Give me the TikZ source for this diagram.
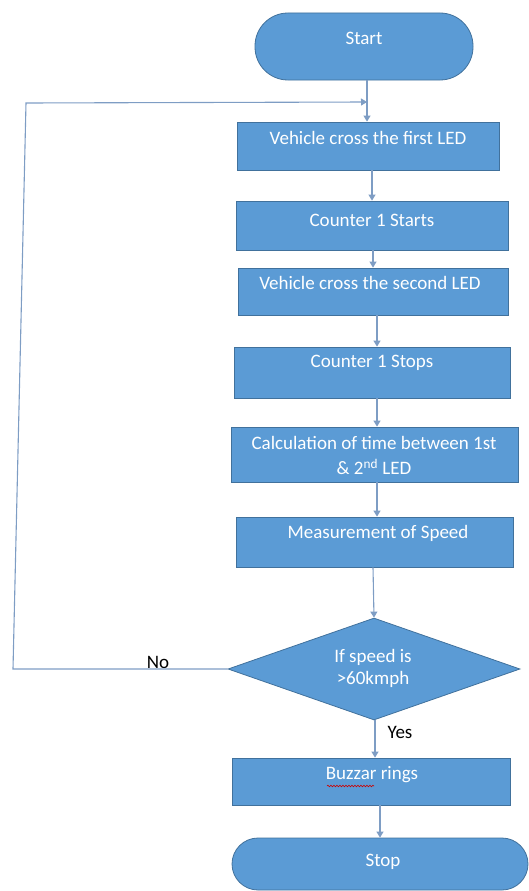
\documentclass[tikz,border=0pt]{standalone}
\usepackage{fontspec}
\setmainfont{Carlito}
\usetikzlibrary{shapes.geometric,arrows.meta,decorations.pathmorphing}
\definecolor{boxfill}{HTML}{5B9BD5}
\definecolor{boxedge}{HTML}{41719C}
\definecolor{lineclr}{HTML}{7E9DC4}
\tikzset{
  shp/.style={draw=boxedge, line width=0.8pt, fill=boxfill, inner sep=0pt},
  boxnode/.style={shp, rectangle},
  term/.style={shp, rectangle},
  txt/.style={text=white, font=\fontsize{19}{23}\selectfont, inner sep=0pt, anchor=center},
  lbl/.style={text=black, font=\fontsize{19}{23}\selectfont, inner sep=0pt, anchor=center},
  arr/.style={draw=lineclr, line width=1.1pt, -{Triangle[width=7pt,length=6pt]}},
  lin/.style={draw=lineclr, line width=1.1pt}
}
\begin{document}
\begin{tikzpicture}[x=1pt,y=-1pt]
\useasboundingbox (0,0) rectangle (528,891);
% shapes
\node[term, rounded corners=33pt, minimum width=218pt, minimum height=67pt] (start) at (364,46.5) {};
\node[boxnode, minimum width=262pt, minimum height=48pt] (b1) at (368,146) {};
\node[boxnode, minimum width=272pt, minimum height=49pt] (b2) at (372,225.5) {};
\node[boxnode, minimum width=270pt, minimum height=47pt] (b3) at (373,291.5) {};
\node[boxnode, minimum width=276pt, minimum height=51pt] (b4) at (372,372.5) {};
\node[boxnode, minimum width=287pt, minimum height=55pt] (b5) at (374.5,454.5) {};
\node[boxnode, minimum width=277pt, minimum height=50pt] (b6) at (374.5,542) {};
\node[shp, diamond, minimum width=292pt, minimum height=102pt] (dia) at (374,669) {};
\node[boxnode, minimum width=278pt, minimum height=47pt] (buz) at (371,781.5) {};
\node[term, rounded corners=26pt, minimum width=296pt, minimum height=52pt] (stop) at (380,864) {};
% texts
\node[txt] (tstart) at (364,38) {Start};
\node[txt] (t1) at (368,138) {Vehicle cross the first LED};
\node[txt] (t2) at (372,220) {Counter 1 Starts};
\node[txt] (t3) at (370,283) {Vehicle cross the second LED};
\node[txt] (t4) at (372,363) {Counter 1 Stops};
\node[txt] (t5a) at (374,443) {Calculation of time between 1st};
\node[txt] (t5b) at (374,467) {\& 2\textsuperscript{nd} LED};
\node[txt] (t6) at (378,533) {Measurement of Speed};
\node[txt] (tda) at (373,657) {If speed is};
\node[txt] (tdb) at (373,679) {>60kmph};
\node[txt] (tbuz) at (372,775) {Buzzar rings};
\node[txt] (tstop) at (383,862) {Stop};
\node[lbl] (no) at (158,662) {No};
\node[lbl] (yes) at (400,732) {Yes};
% red spell-check squiggle under "Buzzar"
\coordinate (sq1) at (327,786);
\coordinate (sq2) at (374,786);
\draw[red!80!black, line width=0.6pt, decorate, decoration={snake, amplitude=0.8pt, segment length=3pt}] (sq1) -- (sq2);
% connectors
\coordinate (m) at (367,102);
\coordinate (lb) at (13,669);
\coordinate (lt) at (26,103);
\draw[arr] (start.south -| m) -- (m |- b1.north);
\draw[arr] (dia.west) -- (lb) -- (lt) -- (m);
\coordinate (x1) at (372,0);
\coordinate (x2) at (373,0);
\coordinate (x3) at (377,0);
\coordinate (x4) at (373,0);
\coordinate (x5) at (375,0);
\coordinate (x6) at (380,0);
\draw[arr] (b1.south -| x1) -- (b2.north -| x1);
\draw[arr] (b2.south -| x2) -- (b3.north -| x2);
\draw[arr] (b3.south -| x3) -- (b4.north -| x3);
\draw[arr] (b4.south -| x3) -- (b5.north -| x3);
\draw[arr] (b5.south -| x3) -- (b6.north -| x3);
\draw[arr] (b6.south -| x4) -- (dia.north);
\draw[arr] (dia.south -| x5) -- (buz.north -| x5);
\draw[arr] (buz.south -| x6) -- (stop.north -| x6);
\end{tikzpicture}
\end{document}
